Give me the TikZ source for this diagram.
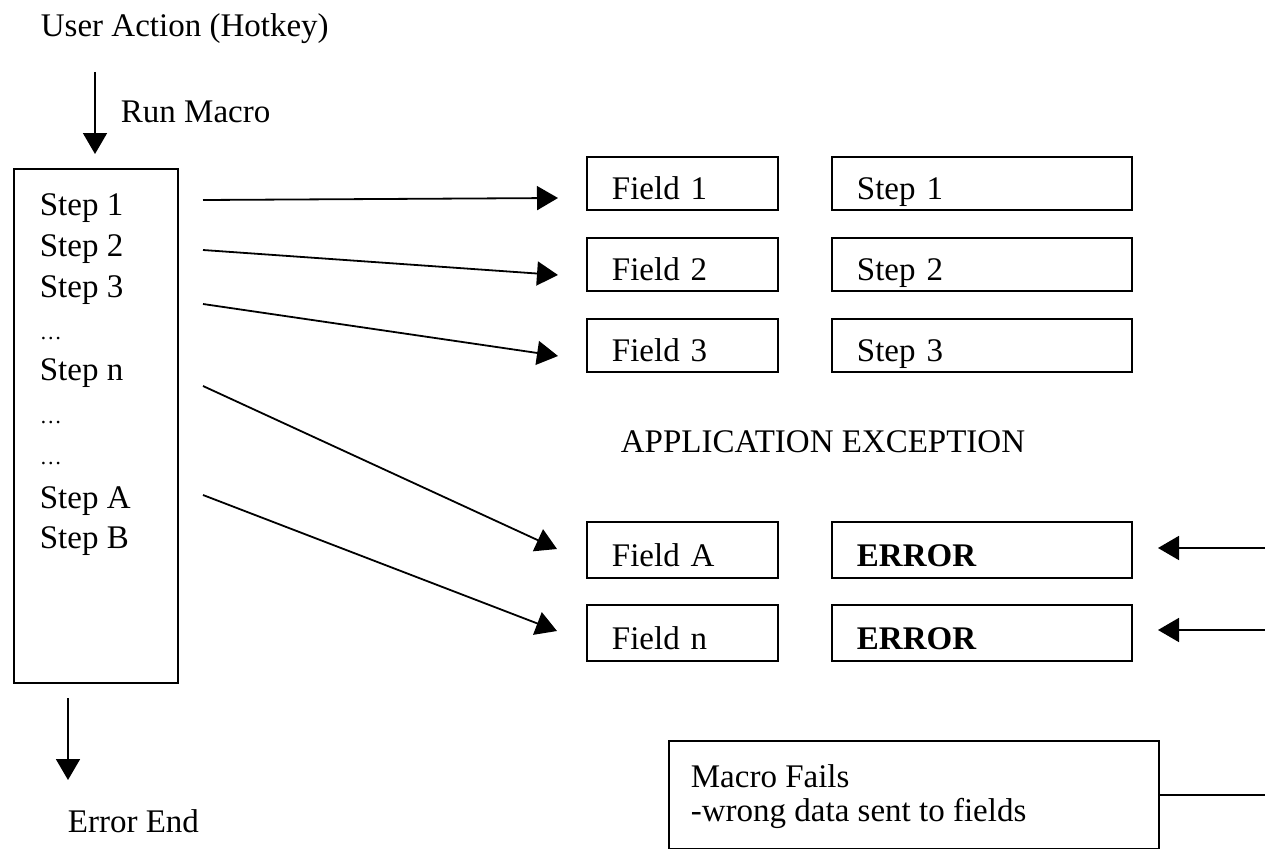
\documentclass[tikz,border=0pt]{standalone}
\usepackage{fontspec}
\setmainfont{Liberation Serif}
\usetikzlibrary{arrows.meta}
\begin{document}
\begin{tikzpicture}[x=1pt,y=-1pt,
  font=\fontsize{33}{41}\selectfont,
  line width=1.8pt,
  arr/.style={-{Triangle[length=21pt,width=24pt]}},
  lbl/.style={anchor=base west, inner sep=0pt},
  tbox/.style={draw, anchor=north west, text width=#1, align=left,
    inner xsep=25pt, inner ysep=0pt, minimum height=53pt,
    text height=33pt, text depth=0pt}]
\useasboundingbox (0,0) rectangle (1265,848);

% top
\node[lbl] (ua) at (40,37) {User Action (Hotkey)};
\coordinate (rm1) at (95,72);
\coordinate (rm2) at (95,154);
\draw[arr] (rm1) -- (rm2);
\node[lbl] (rml) at (120,122) {Run Macro};

% macro box
\node[draw, anchor=north west, minimum width=164pt, minimum height=514pt, inner sep=0pt] (mbox) at (13,168) {};
\node[lbl] (st1) at (39,215) {Step 1};
\node[lbl] (st2) at (39,256) {Step 2};
\node[lbl] (st3) at (39,297) {Step 3};
\node[lbl] (d1) at (39,339) {\fontsize{22}{26}\selectfont\dots};
\node[lbl] (stn) at (39,380) {Step n};
\node[lbl] (d2) at (39,423) {\fontsize{22}{26}\selectfont\dots};
\node[lbl] (d3) at (39,464) {\fontsize{22}{26}\selectfont\dots};
\node[lbl] (stA) at (39,508) {Step A};
\node[lbl] (stB) at (39,548) {Step B};

% field boxes
\node[tbox=141pt] (f1) at (586,156) {Field 1};
\node[tbox=141pt] (f2) at (586,237) {Field 2};
\node[tbox=141pt] (f3) at (586,318) {Field 3};
\node[tbox=141pt, minimum height=56pt] (fA) at (586,521) {Field A};
\node[tbox=141pt, minimum height=56pt] (fn) at (586,604) {Field n};

% step boxes
\node[tbox=250pt] (r1) at (831,156) {Step 1};
\node[tbox=250pt] (r2) at (831,237) {Step 2};
\node[tbox=250pt] (r3) at (831,318) {Step 3};
\node[tbox=250pt, minimum height=56pt] (rA) at (831,521) {\textbf{ERROR}};
\node[tbox=250pt, minimum height=56pt] (rn) at (831,604) {\textbf{ERROR}};

\node[lbl] (ae) at (620,452) {APPLICATION EXCEPTION};

% arrows from steps to fields
\coordinate (a1s) at (203,200); \coordinate (a1t) at (558,198);
\coordinate (a2s) at (203,250); \coordinate (a2t) at (558,275);
\coordinate (a3s) at (203,304); \coordinate (a3t) at (558,356);
\coordinate (a4s) at (203,386); \coordinate (a4t) at (557,549);
\coordinate (a5s) at (203,495); \coordinate (a5t) at (557,631);
\draw[arr] (a1s) -- (a1t);
\draw[arr] (a2s) -- (a2t);
\draw[arr] (a3s) -- (a3t);
\draw[arr] (a4s) -- (a4t);
\draw[arr] (a5s) -- (a5t);

% arrows from right
\coordinate (eAs) at (1266,548); \coordinate (eAt) at (1158,548);
\coordinate (ens) at (1266,630); \coordinate (ent) at (1158,630);
\draw[arr] (eAs) -- (eAt);
\draw[arr] (ens) -- (ent);

% error end
\coordinate (ee1) at (68,698);
\coordinate (ee2) at (68,780);
\draw[arr] (ee1) -- (ee2);
\node[lbl] (eel) at (67,832) {Error End};

% macro fails
\node[draw, anchor=north west, minimum width=490pt, minimum height=108pt,
  inner sep=0pt] (mf) at (668,740) {};
\node[lbl, align=left, font=\fontsize{33}{34}\selectfont] (mft) at (690,821)
  {Macro Fails\\-wrong data sent to fields};
\coordinate (mfe) at (1266,795);
\draw (mf.east |- mfe) -- (mfe);
\end{tikzpicture}
\end{document}
